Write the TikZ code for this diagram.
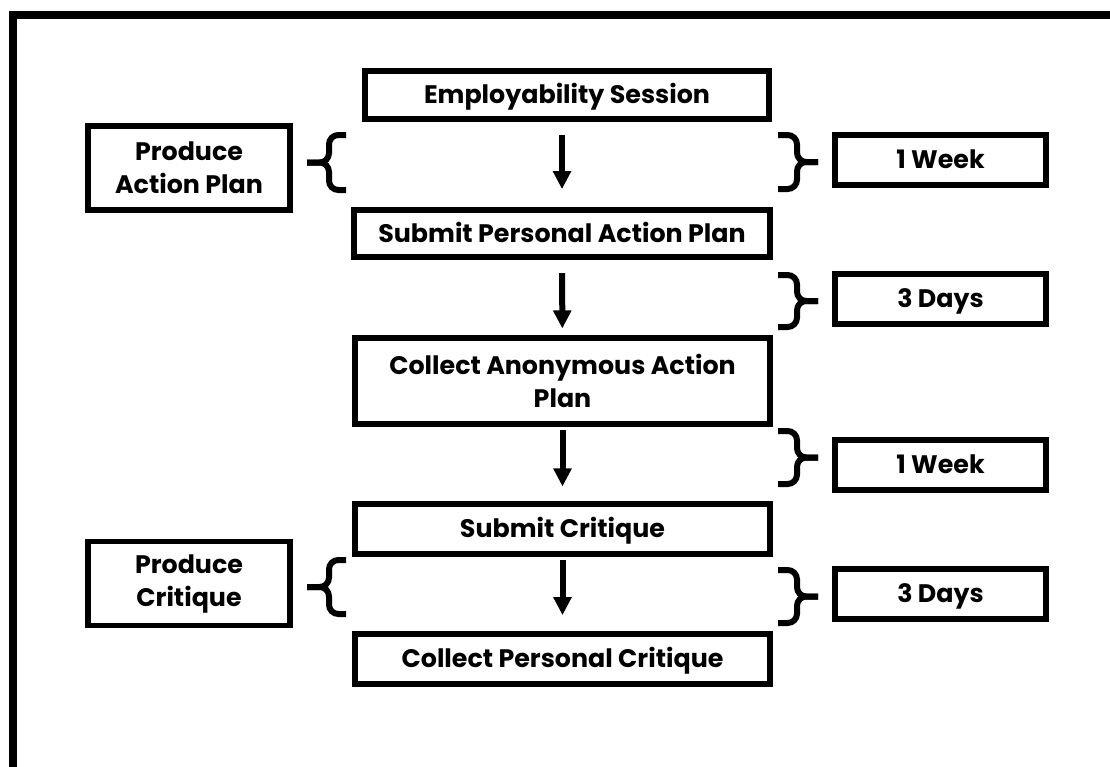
\documentclass[tikz,border=0pt]{standalone}
\usepackage{fontspec}
\setmainfont{Poppins}
\usetikzlibrary{arrows.meta}
% brace beside the flow: #1 top y, #2 bottom y
\newcommand{\timebrace}[2]{%
    \draw[curly] (778,#1) -- (797,#1) -- (797,{(#1+#2)/2}) -- (818,{(#1+#2)/2});
    \draw[curly] (818,{(#1+#2)/2}) -- (797,{(#1+#2)/2}) -- (797,#2) -- (778,#2);}
\newcommand{\taskbrace}[2]{%
    \draw[curly] (346,#1) -- (329,#1) -- (329,{(#1+#2)/2}) -- (307,{(#1+#2)/2});
    \draw[curly] (307,{(#1+#2)/2}) -- (329,{(#1+#2)/2}) -- (329,#2) -- (346,#2);}
\begin{document}
\begin{tikzpicture}[x=0.75pt, y=-0.75pt,
        box/.style={draw, line width=4.3pt, align=center, inner sep=0pt, font=\fontsize{19}{24.75}\selectfont\bfseries},
        oneline/.style={text height=13.3pt, text depth=0pt},
        stagebox/.style={box, minimum width=311pt, minimum height=37.5pt},
        taskbox/.style={box, minimum width=151.5pt, minimum height=63pt},
        timebox/.style={box, oneline, minimum width=158.25pt, minimum height=37.5pt},
        arrow/.style={-{Triangle[width=13pt,length=13.5pt]}, line width=4.5pt},
        curly/.style={line width=4.5pt, rounded corners=7pt}
    ]
        \useasboundingbox (0,0) rectangle (1110,767);
        \draw[line width=6pt] (13,790) -- (13,15) -- (1130,15);

        % main flow
        \node[stagebox, oneline, minimum width=303pt, minimum height=36pt] (sess) at (567,95) {Employability Session};
        \node[stagebox, oneline, minimum width=312pt, minimum height=35.25pt] (spap) at (562,233.5) {Submit Personal Action Plan};
        \node[stagebox, minimum height=64.5pt] (caap) at (562.5,381) {Collect Anonymous Action\\Plan};
        \node[stagebox, oneline] (crit) at (562.5,529) {Submit Critique};
        \node[stagebox, oneline] (cpc) at (562.5,659) {Collect Personal Critique};

        \draw[arrow, shorten <=10pt, shorten >=13.5pt] (sess.south -| spap.north) -- (spap.north);
        \draw[arrow, shorten <=10pt, shorten >=5pt] (spap) -- (caap);
        \draw[arrow, shorten <=2.5pt, shorten >=11pt] (caap) -- (crit);
        \draw[arrow, shorten <=2.5pt, shorten >=12pt] (crit) -- (cpc);

        % left side
        \node[taskbox] (plan) at (189,168) {Produce\\Action Plan};
        \node[taskbox] (prod) at (189,583.5) {Produce\\Critique};
        \taskbrace{135}{190}
        \taskbrace{560}{614}

        % right side
        \node[timebox] (wk1) at (940.5,160) {1 Week};
        \node[timebox] (dy1) at (940.5,299) {3 Days};
        \node[timebox] (wk2) at (940.5,465) {1 Week};
        \node[timebox] (dy2) at (940.5,594) {3 Days};
        \timebrace{135}{189}
        \timebrace{275}{327}
        \timebrace{431}{484}
        \timebrace{570}{623}
    \end{tikzpicture}
\end{document}
